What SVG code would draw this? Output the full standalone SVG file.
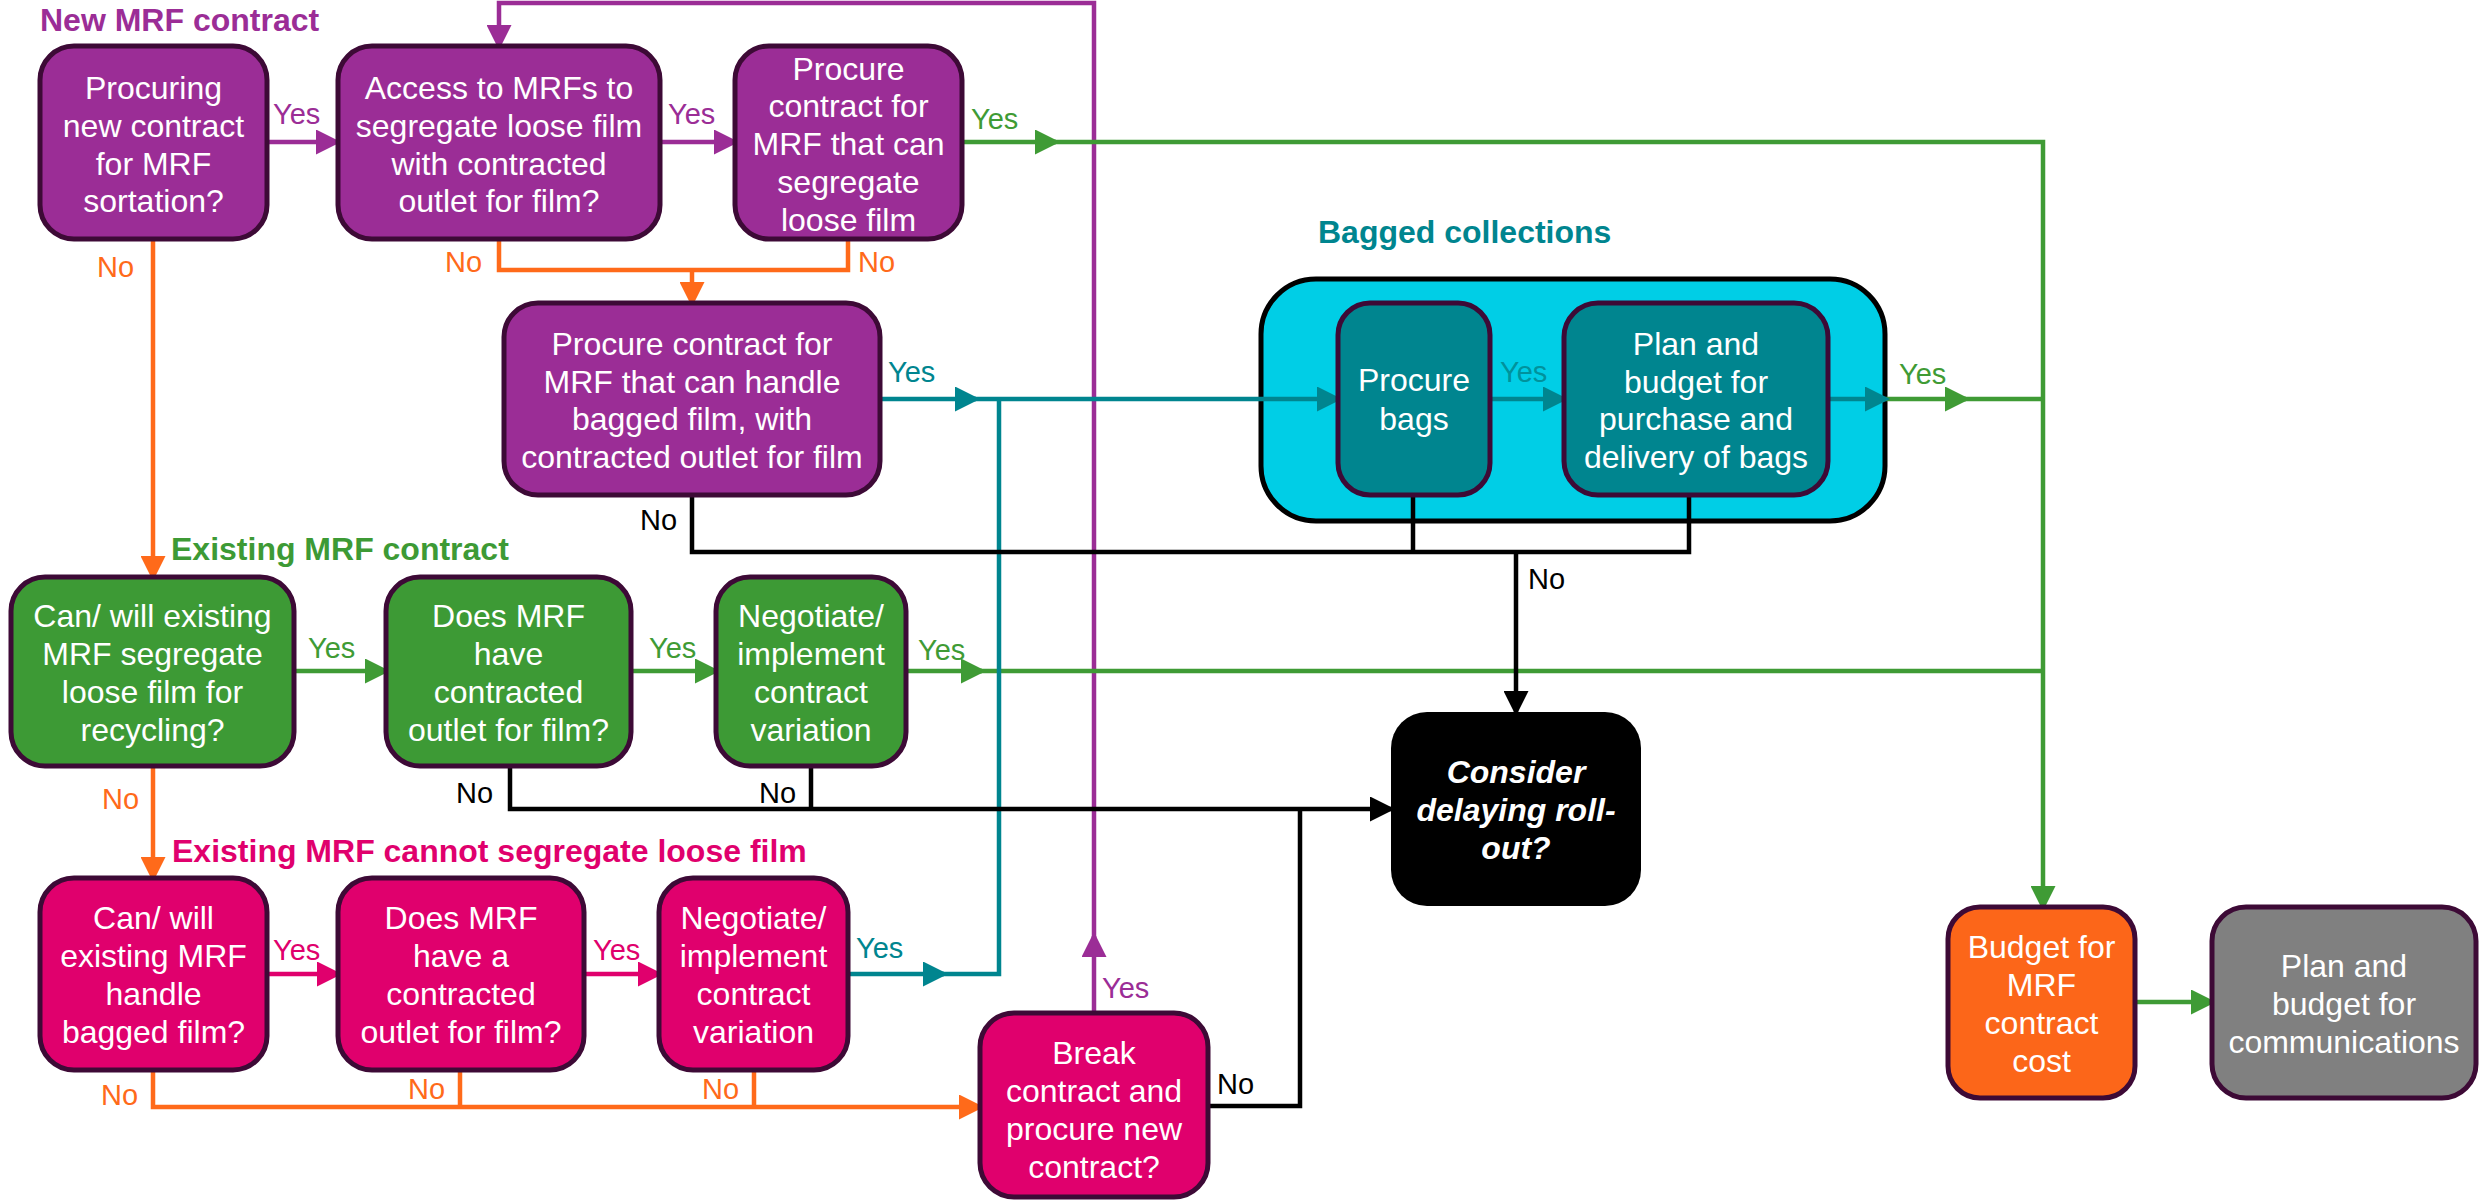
<svg xmlns="http://www.w3.org/2000/svg" width="2479" height="1200" viewBox="0 0 2479 1200">
<style>
.n{stroke:#3D0A36;stroke-width:5}
.pu{fill:#9B2D96}.gr{fill:#3D9A35}.pk{fill:#E0006D}.te{fill:#00858F}.or{fill:#FC6619}.gy{fill:#808080}
.t{font-family:"Liberation Sans",Arial,sans-serif;font-size:32px;fill:#fff;text-anchor:middle}
.h{font-family:"Liberation Sans",Arial,sans-serif;font-size:32px;font-weight:bold}
.l{font-family:"Liberation Sans",Arial,sans-serif;font-size:29px}
.c{fill:none;stroke-width:4.5}
.cp{stroke:#9B2D96}.co{stroke:#FF6A1A}.cg{stroke:#3F9B35}.ct{stroke:#00858F}.ck{stroke:#000}.cpk{stroke:#E0006D}
</style>
<defs>
<marker id="aP" markerWidth="25" markerHeight="25" refX="21" refY="12.5" orient="auto" markerUnits="userSpaceOnUse"><path d="M0,0L25,12.5L0,25z" fill="#9B2D96"/></marker>
<marker id="aO" markerWidth="25" markerHeight="25" refX="21" refY="12.5" orient="auto" markerUnits="userSpaceOnUse"><path d="M0,0L25,12.5L0,25z" fill="#FF6A1A"/></marker>
<marker id="aG" markerWidth="25" markerHeight="25" refX="21" refY="12.5" orient="auto" markerUnits="userSpaceOnUse"><path d="M0,0L25,12.5L0,25z" fill="#3F9B35"/></marker>
<marker id="aT" markerWidth="25" markerHeight="25" refX="21" refY="12.5" orient="auto" markerUnits="userSpaceOnUse"><path d="M0,0L25,12.5L0,25z" fill="#00858F"/></marker>
<marker id="aK" markerWidth="25" markerHeight="25" refX="21" refY="12.5" orient="auto" markerUnits="userSpaceOnUse"><path d="M0,0L25,12.5L0,25z" fill="#000"/></marker>
<marker id="aPk" markerWidth="25" markerHeight="25" refX="21" refY="12.5" orient="auto" markerUnits="userSpaceOnUse"><path d="M0,0L25,12.5L0,25z" fill="#E0006D"/></marker>
</defs>
<rect width="2479" height="1200" fill="#fff"/>

<g id="titles">
<text class="h" x="40" y="31" fill="#9B2D96">New MRF contract</text>
<text class="h" x="171" y="560" fill="#3D9A35">Existing MRF contract</text>
<text class="h" x="172" y="862" fill="#E0006D">Existing MRF cannot segregate loose film</text>
<text class="h" x="1318" y="243" fill="#00858F">Bagged collections</text>
</g>

<g id="bagged-collections">
<rect x="1261" y="279" width="624" height="242" rx="55" fill="#00CEE6" stroke="#000" stroke-width="5"/>
</g>

<g id="connectors">
<path class="c cp" d="M267,142H337" marker-end="url(#aP)"/>
<path class="c cp" d="M660,142H735" marker-end="url(#aP)"/>
<path class="c cp" d="M1094,1013V936" marker-end="url(#aP)"/>
<path class="c cp" d="M1094,940V3H499V46" marker-end="url(#aP)"/>
<path class="c co" d="M153,239V577" marker-end="url(#aO)"/>
<path class="c co" d="M499,239V270H848V239"/>
<path class="c co" d="M692,270V303" marker-end="url(#aO)"/>
<path class="c co" d="M153,766V878" marker-end="url(#aO)"/>
<path class="c co" d="M153,1070V1107H980" marker-end="url(#aO)"/>
<path class="c co" d="M460,1070V1107"/>
<path class="c co" d="M754,1070V1107"/>
<path class="c cg" d="M962,142H1056" marker-end="url(#aG)"/>
<path class="c cg" d="M1050,142H2043V907" marker-end="url(#aG)"/>
<path class="c cg" d="M294,671H386" marker-end="url(#aG)"/>
<path class="c cg" d="M631,671H716" marker-end="url(#aG)"/>
<path class="c cg" d="M906,671H982" marker-end="url(#aG)"/>
<path class="c cg" d="M976,671H2043"/>
<path class="c cg" d="M1886,399H1966" marker-end="url(#aG)"/>
<path class="c cg" d="M1960,399H2043"/>
<path class="c cg" d="M2135,1002H2212" marker-end="url(#aG)"/>
<path class="c ct" d="M880,399H976" marker-end="url(#aT)"/>
<path class="c ct" d="M970,399H1338" marker-end="url(#aT)"/>
<path class="c ct" d="M848,974H944" marker-end="url(#aT)"/>
<path class="c ct" d="M938,974H999V399"/>
<path class="c ct" d="M1490,399H1564" marker-end="url(#aT)"/>
<path class="c ct" d="M1828,399H1886" marker-end="url(#aT)"/>
<path class="c cpk" d="M267,974H338" marker-end="url(#aPk)"/>
<path class="c cpk" d="M584,974H659" marker-end="url(#aPk)"/>
<path class="c ck" d="M692,495V552H1689V495"/>
<path class="c ck" d="M1413,495V552"/>
<path class="c ck" d="M1516,552V712" marker-end="url(#aK)"/>
<path class="c ck" d="M510,766V809H1391" marker-end="url(#aK)"/>
<path class="c ck" d="M811,766V809"/>
<path class="c ck" d="M1208,1106H1300V809"/>
</g>

<g id="labels">
<text class="l" x="273" y="124" fill="#9B2D96">Yes</text>
<text class="l" x="668" y="124" fill="#9B2D96">Yes</text>
<text class="l" x="971" y="129" fill="#3F9B35">Yes</text>
<text class="l" x="97" y="277" fill="#FF6A1A">No</text>
<text class="l" x="445" y="272" fill="#FF6A1A">No</text>
<text class="l" x="858" y="272" fill="#FF6A1A">No</text>
<text class="l" x="888" y="382" fill="#00858F">Yes</text>
<text class="l" x="640" y="530" fill="#000">No</text>
<text class="l" x="1500" y="382" fill="#00929C">Yes</text>
<text class="l" x="1899" y="384" fill="#3F9B35">Yes</text>
<text class="l" x="1528" y="589" fill="#000">No</text>
<text class="l" x="308" y="658" fill="#3F9B35">Yes</text>
<text class="l" x="649" y="658" fill="#3F9B35">Yes</text>
<text class="l" x="918" y="660" fill="#3F9B35">Yes</text>
<text class="l" x="102" y="809" fill="#FF6A1A">No</text>
<text class="l" x="456" y="803" fill="#000">No</text>
<text class="l" x="759" y="803" fill="#000">No</text>
<text class="l" x="273" y="960" fill="#E0006D">Yes</text>
<text class="l" x="593" y="960" fill="#E0006D">Yes</text>
<text class="l" x="856" y="958" fill="#00858F">Yes</text>
<text class="l" x="101" y="1105" fill="#FF6A1A">No</text>
<text class="l" x="408" y="1099" fill="#FF6A1A">No</text>
<text class="l" x="702" y="1099" fill="#FF6A1A">No</text>
<text class="l" x="1102" y="998" fill="#9B2D96">Yes</text>
<text class="l" x="1217" y="1094" fill="#000">No</text>
</g>

<g id="procuring-new-contract">
<rect class="n pu" x="40" y="46" width="227" height="193" rx="34"/>
<text class="t"><tspan x="153.5" y="99">Procuring</tspan><tspan x="153.5" y="137">new contract</tspan><tspan x="153.5" y="175">for MRF</tspan><tspan x="153.5" y="212">sortation?</tspan></text>
</g>
<g id="access-to-mrfs">
<rect class="n pu" x="338" y="46" width="322" height="193" rx="34"/>
<text class="t"><tspan x="499" y="99">Access to MRFs to</tspan><tspan x="499" y="137">segregate loose film</tspan><tspan x="499" y="175">with contracted</tspan><tspan x="499" y="212">outlet for film?</tspan></text>
</g>
<g id="procure-loose-film">
<rect class="n pu" x="735" y="46" width="227" height="193" rx="34"/>
<text class="t"><tspan x="848.5" y="80">Procure</tspan><tspan x="848.5" y="117">contract for</tspan><tspan x="848.5" y="155">MRF that can</tspan><tspan x="848.5" y="193">segregate</tspan><tspan x="848.5" y="231">loose film</tspan></text>
</g>
<g id="procure-bagged-film">
<rect class="n pu" x="504" y="303" width="376" height="192" rx="34"/>
<text class="t"><tspan x="692" y="355">Procure contract for</tspan><tspan x="692" y="393">MRF that can handle</tspan><tspan x="692" y="430">bagged film, with</tspan><tspan x="692" y="468">contracted outlet for film</tspan></text>
</g>
<g id="procure-bags">
<rect class="n te" x="1338" y="303" width="152" height="192" rx="32"/>
<text class="t"><tspan x="1414" y="391">Procure</tspan><tspan x="1414" y="430">bags</tspan></text>
</g>
<g id="plan-bags">
<rect class="n te" x="1564" y="303" width="264" height="192" rx="34"/>
<text class="t"><tspan x="1696" y="355">Plan and</tspan><tspan x="1696" y="393">budget for</tspan><tspan x="1696" y="430">purchase and</tspan><tspan x="1696" y="468">delivery of bags</tspan></text>
</g>
<g id="existing-segregate">
<rect class="n gr" x="11" y="577" width="283" height="189" rx="34"/>
<text class="t"><tspan x="152.5" y="627">Can/ will existing</tspan><tspan x="152.5" y="665">MRF segregate</tspan><tspan x="152.5" y="703">loose film for</tspan><tspan x="152.5" y="741">recycling?</tspan></text>
</g>
<g id="existing-outlet">
<rect class="n gr" x="386" y="577" width="245" height="189" rx="34"/>
<text class="t"><tspan x="508.5" y="627">Does MRF</tspan><tspan x="508.5" y="665">have</tspan><tspan x="508.5" y="703">contracted</tspan><tspan x="508.5" y="741">outlet for film?</tspan></text>
</g>
<g id="existing-variation">
<rect class="n gr" x="716" y="577" width="190" height="189" rx="34"/>
<text class="t"><tspan x="811" y="627">Negotiate/</tspan><tspan x="811" y="665">implement</tspan><tspan x="811" y="703">contract</tspan><tspan x="811" y="741">variation</tspan></text>
</g>
<g id="bagged-handle">
<rect class="n pk" x="40" y="878" width="227" height="192" rx="34"/>
<text class="t"><tspan x="153.5" y="929">Can/ will</tspan><tspan x="153.5" y="967">existing MRF</tspan><tspan x="153.5" y="1005">handle</tspan><tspan x="153.5" y="1043">bagged film?</tspan></text>
</g>
<g id="bagged-outlet">
<rect class="n pk" x="338" y="878" width="246" height="192" rx="34"/>
<text class="t"><tspan x="461" y="929">Does MRF</tspan><tspan x="461" y="967">have a</tspan><tspan x="461" y="1005">contracted</tspan><tspan x="461" y="1043">outlet for film?</tspan></text>
</g>
<g id="bagged-variation">
<rect class="n pk" x="659" y="878" width="189" height="192" rx="34"/>
<text class="t"><tspan x="753.5" y="929">Negotiate/</tspan><tspan x="753.5" y="967">implement</tspan><tspan x="753.5" y="1005">contract</tspan><tspan x="753.5" y="1043">variation</tspan></text>
</g>
<g id="break-contract">
<rect class="n pk" x="980" y="1013" width="228" height="184" rx="34"/>
<text class="t"><tspan x="1094" y="1064">Break</tspan><tspan x="1094" y="1102">contract and</tspan><tspan x="1094" y="1140">procure new</tspan><tspan x="1094" y="1178">contract?</tspan></text>
</g>
<g id="consider-delaying">
<rect x="1391" y="712" width="250" height="194" rx="36" fill="#000"/>
<text class="t" font-weight="bold" font-style="italic"><tspan x="1516" y="783">Consider</tspan><tspan x="1516" y="821">delaying roll-</tspan><tspan x="1516" y="859">out?</tspan></text>
</g>
<g id="budget-mrf">
<rect class="n or" x="1948" y="907" width="187" height="191" rx="32"/>
<text class="t"><tspan x="2041.5" y="958">Budget for</tspan><tspan x="2041.5" y="996">MRF</tspan><tspan x="2041.5" y="1034">contract</tspan><tspan x="2041.5" y="1072">cost</tspan></text>
</g>
<g id="plan-communications">
<rect class="n gy" x="2212" y="907" width="264" height="191" rx="34"/>
<text class="t"><tspan x="2344" y="977">Plan and</tspan><tspan x="2344" y="1015">budget for</tspan><tspan x="2344" y="1053">communications</tspan></text>
</g>
</svg>
